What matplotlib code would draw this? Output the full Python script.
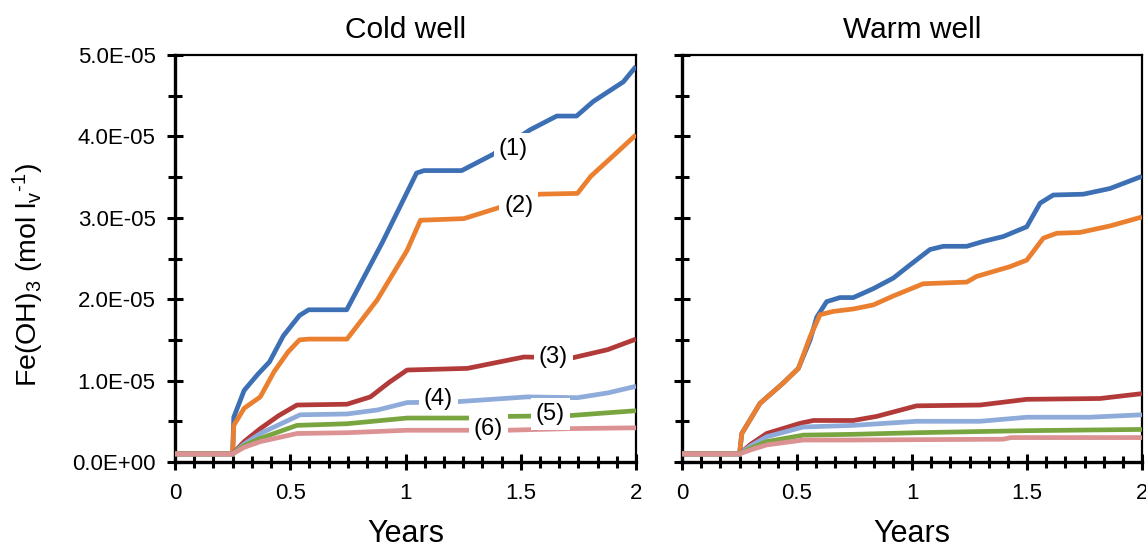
import matplotlib
matplotlib.use("Agg")
import matplotlib.pyplot as plt
from matplotlib.ticker import MultipleLocator, FuncFormatter

plt.rcParams['font.family'] = ['Liberation Sans', 'DejaVu Sans']
plt.rcParams['mathtext.default'] = 'regular'

SCALE = 1e-5  # values below are in units of 1e-5 mol/l

# ---------------- Cold well ----------------
cold_x1 = [0, 0.25, 0.255, 0.30, 0.36, 0.41, 0.47, 0.54, 0.58, 0.745, 0.90, 1.048, 1.08, 1.244, 1.38, 1.54, 1.656, 1.742, 1.815, 1.945, 2.0]
cold_y1 = [0.1, 0.1, 0.55, 0.88, 1.08, 1.23, 1.55, 1.80, 1.87, 1.87, 2.70, 3.55, 3.58, 3.58, 3.78, 4.08, 4.25, 4.25, 4.43, 4.67, 4.86]
cold_x2 = [0, 0.25, 0.255, 0.30, 0.37, 0.43, 0.49, 0.54, 0.58, 0.746, 0.877, 1.007, 1.065, 1.253, 1.40, 1.58, 1.746, 1.804, 1.92, 2.0]
cold_y2 = [0.1, 0.1, 0.45, 0.66, 0.80, 1.11, 1.35, 1.50, 1.51, 1.51, 1.99, 2.60, 2.97, 2.99, 3.12, 3.29, 3.30, 3.51, 3.81, 4.02]
cold_x3 = [0, 0.25, 0.30, 0.37, 0.45, 0.529, 0.746, 0.848, 0.93, 1.007, 1.268, 1.514, 1.725, 1.877, 2.0]
cold_y3 = [0.1, 0.1, 0.25, 0.41, 0.57, 0.70, 0.71, 0.80, 0.98, 1.13, 1.15, 1.29, 1.28, 1.38, 1.51]
cold_x4 = [0, 0.25, 0.30, 0.37, 0.543, 0.746, 0.88, 1.007, 1.22, 1.529, 1.746, 1.88, 2.0]
cold_y4 = [0.1, 0.1, 0.22, 0.35, 0.58, 0.59, 0.64, 0.73, 0.74, 0.80, 0.79, 0.85, 0.93]
cold_x5 = [0, 0.25, 0.30, 0.37, 0.529, 0.746, 1.007, 1.268, 1.442, 1.71, 2.0]
cold_y5 = [0.1, 0.1, 0.20, 0.29, 0.45, 0.47, 0.54, 0.54, 0.56, 0.57, 0.63]
cold_x6 = [0, 0.25, 0.30, 0.37, 0.529, 0.746, 1.007, 1.44, 1.71, 2.0]
cold_y6 = [0.1, 0.1, 0.18, 0.25, 0.35, 0.36, 0.39, 0.39, 0.41, 0.42]

# ---------------- Warm well ----------------
warm_x1 = [0, 0.25, 0.26, 0.339, 0.44, 0.506, 0.557, 0.586, 0.629, 0.687, 0.745, 0.832, 0.919, 0.991, 1.078, 1.136, 1.238, 1.31, 1.397, 1.499, 1.557, 1.614, 1.745, 1.861, 2.0]
warm_y1 = [0.1, 0.1, 0.35, 0.72, 0.97, 1.15, 1.50, 1.78, 1.97, 2.02, 2.02, 2.13, 2.26, 2.42, 2.61, 2.65, 2.65, 2.71, 2.77, 2.89, 3.18, 3.28, 3.29, 3.36, 3.51]
warm_x2 = [0, 0.25, 0.26, 0.339, 0.44, 0.506, 0.557, 0.60, 0.658, 0.745, 0.832, 0.919, 1.049, 1.238, 1.281, 1.426, 1.499, 1.571, 1.629, 1.73, 1.861, 2.0]
warm_y2 = [0.1, 0.1, 0.35, 0.72, 0.97, 1.15, 1.54, 1.81, 1.85, 1.88, 1.93, 2.04, 2.19, 2.21, 2.28, 2.40, 2.48, 2.75, 2.81, 2.82, 2.90, 3.01]
warm_x3 = [0, 0.25, 0.30, 0.368, 0.513, 0.571, 0.745, 0.846, 1.02, 1.296, 1.499, 1.817, 2.0]
warm_y3 = [0.1, 0.1, 0.22, 0.35, 0.475, 0.51, 0.51, 0.56, 0.69, 0.70, 0.77, 0.78, 0.84]
warm_x4 = [0, 0.25, 0.30, 0.368, 0.527, 0.745, 1.02, 1.296, 1.5, 1.77, 2.0]
warm_y4 = [0.1, 0.1, 0.20, 0.31, 0.43, 0.45, 0.50, 0.50, 0.55, 0.55, 0.58]
warm_x5 = [0, 0.25, 0.30, 0.368, 0.527, 0.745, 1.02, 1.5, 2.0]
warm_y5 = [0.1, 0.1, 0.17, 0.25, 0.33, 0.34, 0.36, 0.385, 0.40]
warm_x6 = [0, 0.25, 0.30, 0.368, 0.527, 0.745, 1.397, 1.43, 2.0]
warm_y6 = [0.1, 0.1, 0.15, 0.21, 0.27, 0.27, 0.28, 0.30, 0.30]

colors = ['#3d6fb5', '#ea7f2f', '#b23a39', '#8eabd9', '#79a540', '#dc9193']

series_labels = ['(1)', '(2)', '(3)', '(4)', '(5)', '(6)']
label_x = [1.467, 1.491, 1.641, 1.143, 1.628, 1.359]
label_y = [3.85, 3.15, 1.284, 0.774, 0.59, 0.40]

titles = ['Cold well', 'Warm well']
xticks = [0, 0.5, 1, 1.5, 2]
yticks = [0, 1, 2, 3, 4, 5]

cold = [(cold_x1, cold_y1), (cold_x2, cold_y2), (cold_x3, cold_y3),
        (cold_x4, cold_y4), (cold_x5, cold_y5), (cold_x6, cold_y6)]
warm = [(warm_x1, warm_y1), (warm_x2, warm_y2), (warm_x3, warm_y3),
        (warm_x4, warm_y4), (warm_x5, warm_y5), (warm_x6, warm_y6)]

W, H = 1146, 548
fig = plt.figure(figsize=(W / 100, H / 100), dpi=100)
ax1 = fig.add_axes([175 / W, (H - 462) / H, 461 / W, 407 / H])
ax2 = fig.add_axes([682 / W, (H - 462) / H, 460 / W, 407 / H])

for ax, data, title in [(ax1, cold, titles[0]), (ax2, warm, titles[1])]:
    for (xs, ys), c in zip(data, colors):
        ax.plot(xs, [v * SCALE for v in ys], color=c, lw=3.4, solid_joinstyle='round',
                solid_capstyle='butt', zorder=3)
    ax.set_xlim(0, 2)
    ax.set_ylim(0, 5 * SCALE)
    ax.set_xticks(xticks)
    ax.xaxis.set_minor_locator(MultipleLocator(1 / 12))
    ax.set_yticks([t * SCALE for t in yticks])
    ax.yaxis.set_minor_locator(MultipleLocator(0.5 * SCALE))
    ax.xaxis.set_major_formatter(FuncFormatter(lambda v, p: f"{v:g}"))
    ax.yaxis.set_major_formatter(FuncFormatter(lambda v, p: f"{v:.1E}"))
    ax.tick_params(axis='both', which='major', direction='inout', length=12, width=2.2,
                   labelsize=16, color='black')
    ax.tick_params(axis='both', which='minor', direction='inout', length=8, width=2.2)
    ax.tick_params(axis='y', which='minor', length=10)
    ax.tick_params(axis='x', which='major', pad=9)
    ax.tick_params(axis='y', which='major', pad=8)
    ax.tick_params(top=False, right=False, which='both')
    for s in ['left', 'bottom']:
        ax.spines[s].set_linewidth(2.4)
    for s in ['top', 'right']:
        ax.spines[s].set_linewidth(1.6)
    ax.set_title(title, fontsize=21.5, pad=12)
    ax.set_xlabel('Years', fontsize=22, labelpad=11)
    ax.set_facecolor('white')

ax2.tick_params(axis='y', labelleft=False)

for lab, lx, ly in zip(series_labels, label_x, label_y):
    ax1.text(lx, ly * SCALE, lab, fontsize=17, ha='center', va='center', zorder=5,
             bbox=dict(boxstyle='square,pad=0.2', fc='white', ec='none'))

ax1.set_ylabel('Fe(OH)$_3$ (mol l$_v$$^{\u2010 1}$)'.replace('\u2010 ', '\u2010'), fontsize=20.5)
ax1.yaxis.set_label_coords(-0.28, 0.46)

fig.savefig('out.png', dpi=100, facecolor='white')
